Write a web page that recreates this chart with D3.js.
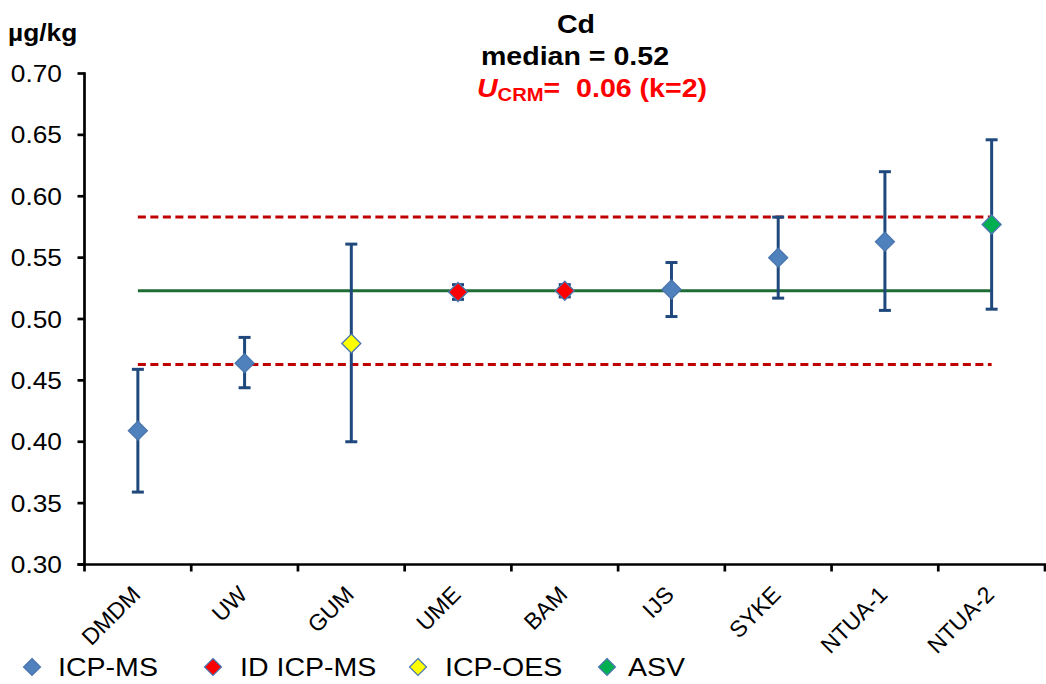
<!DOCTYPE html>
<html lang="en">
<head>
    <meta charset="UTF-8">
    <title>Cd</title>
    <style>
        body { margin: 0; background: #fff; }
        text { font-family: "Liberation Sans", Arial, sans-serif; }
        .axis-line { stroke: #000; stroke-width: 2.7; fill: none; }
        .errbar { stroke: #1F497D; stroke-width: 3; fill: none; }
        .median { stroke: #1E6B35; stroke-width: 3; }
        .limit { stroke: #C00000; stroke-width: 3; stroke-dasharray: 8 4.5; }
    </style>
</head>
<body>
    <svg></svg>
<script src="https://d3js.org/d3.v7.min.js"></script>
<script>
    // data
    var labs = ["DMDM", "UW", "GUM", "UME", "BAM", "IJS", "SYKE", "NTUA-1", "NTUA-2"];
    var vals = [0.409, 0.464, 0.480, 0.522, 0.523, 0.524, 0.550, 0.563, 0.577];
    var lows = [0.359, 0.444, 0.400, 0.516, 0.518, 0.502, 0.517, 0.507, 0.508];
    var highs = [0.459, 0.485, 0.561, 0.528, 0.528, 0.546, 0.583, 0.620, 0.646];
    var methods = ["ICP-MS", "ICP-MS", "ICP-OES", "ID ICP-MS", "ID ICP-MS", "ICP-MS", "ICP-MS", "ICP-MS", "ASV"];
    var yTicks = [0.30, 0.35, 0.40, 0.45, 0.50, 0.55, 0.60, 0.65, 0.70];
    var median = 0.523;
    var lowerLimit = 0.463;
    var upperLimit = 0.583;
    var legendItems = ["ICP-MS", "ID ICP-MS", "ICP-OES", "ASV"];
    var legendX = [32, 213, 418, 607];
    var legendTextX = [58, 240, 445, 628];
    var fills = {"ICP-MS": "#4F81BD", "ID ICP-MS": "#FF0000", "ICP-OES": "#FFFF00", "ASV": "#00B050"};

    var width = 1046, height = 684;
    var sx = 1.12; // reference text is a bit wider than Arial

    var svg = d3.select("svg").attr("width", width).attr("height", height);

    var x = d3.scaleBand().domain(labs).range([84.5, 1045]).padding(0);
    var y = d3.scaleLinear().domain([0.30, 0.70]).range([564.5, 73.5]);
    var cx = function(d) { return x(d) + x.bandwidth() / 2; };

    var rows = labs.map(function(l, i) {
        return {lab: l, v: vals[i], lo: lows[i], hi: highs[i], m: methods[i]};
    });

    function htext(g, px, py, str, size, weight, anchor, color) {
        return g.append("text")
            .attr("transform", "translate(" + px + "," + py + ") scale(" + sx + ",1)")
            .attr("text-anchor", anchor)
            .style("font-size", size + "px")
            .style("font-weight", weight)
            .attr("fill", color || "#000")
            .text(str);
    }

    // reference lines
    var x0 = cx(labs[0]), x1 = cx(labs[labs.length - 1]);
    svg.append("line").attr("class", "limit")
        .attr("x1", x0).attr("x2", x1).attr("y1", y(upperLimit)).attr("y2", y(upperLimit));
    svg.append("line").attr("class", "limit")
        .attr("x1", x0).attr("x2", x1).attr("y1", y(lowerLimit)).attr("y2", y(lowerLimit));
    svg.append("line").attr("class", "median")
        .attr("x1", x0).attr("x2", x1).attr("y1", y(median)).attr("y2", y(median));

    // axes
    var yAxis = svg.append("g");
    yAxis.append("line").attr("class", "axis-line")
        .attr("x1", 84.5).attr("x2", 84.5).attr("y1", y(0.70) - 1.3).attr("y2", y(0.30));
    yTicks.forEach(function(t) {
        yAxis.append("line").attr("class", "axis-line")
            .attr("x1", 77.5).attr("x2", 84.5).attr("y1", y(t)).attr("y2", y(t));
        htext(yAxis, 62, y(t) + 8.5, t.toFixed(2), 23.5, "normal", "end");
    });

    var xAxis = svg.append("g");
    xAxis.append("line").attr("class", "axis-line")
        .attr("x1", 77.5).attr("x2", 1046).attr("y1", y(0.30)).attr("y2", y(0.30));
    labs.concat([null]).forEach(function(l) {
        var bx = l === null ? x.range()[1] : x(l);
        xAxis.append("line").attr("class", "axis-line")
            .attr("x1", bx).attr("x2", bx).attr("y1", y(0.30)).attr("y2", y(0.30) + 7);
    });
    labs.forEach(function(l) {
        xAxis.append("text")
            .attr("transform", "translate(" + (cx(l) + 4) + ",596) rotate(-45)")
            .attr("text-anchor", "end")
            .style("font-size", "23px")
            .text(l);
    });

    // error bars
    var eb = svg.append("g").selectAll("g").data(rows).enter().append("g");
    eb.append("line").attr("class", "errbar")
        .attr("x1", function(d) { return cx(d.lab); }).attr("x2", function(d) { return cx(d.lab); })
        .attr("y1", function(d) { return y(d.lo); }).attr("y2", function(d) { return y(d.hi); });
    eb.append("line").attr("class", "errbar")
        .attr("x1", function(d) { return cx(d.lab) - 6; }).attr("x2", function(d) { return cx(d.lab) + 6; })
        .attr("y1", function(d) { return y(d.lo); }).attr("y2", function(d) { return y(d.lo); });
    eb.append("line").attr("class", "errbar")
        .attr("x1", function(d) { return cx(d.lab) - 6; }).attr("x2", function(d) { return cx(d.lab) + 6; })
        .attr("y1", function(d) { return y(d.hi); }).attr("y2", function(d) { return y(d.hi); });

    // diamonds
    function diamond(r) {
        return "M0," + (-r) + "L" + r + ",0L0," + r + "L" + (-r) + ",0Z";
    }
    svg.append("g").selectAll("path").data(rows).enter().append("path")
        .attr("d", diamond(9.5))
        .attr("transform", function(d) { return "translate(" + cx(d.lab) + "," + y(d.v) + ")"; })
        .attr("fill", function(d) { return fills[d.m]; })
        .attr("stroke", "#4A76AE")
        .attr("stroke-width", 1.3);

    // titles
    var tg = svg.append("g");
    htext(tg, 8, 41, "\u00b5g/kg", 23.5, "bold", "start");
    htext(tg, 576, 33, "Cd", 25.5, "bold", "middle");
    htext(tg, 575, 65, "median = 0.52", 25.5, "bold", "middle");
    var ut = tg.append("text")
        .attr("transform", "translate(477,97) scale(" + sx + ",1)")
        .style("font-size", "25.5px").style("font-weight", "bold")
        .attr("fill", "#FF0000");
    ut.append("tspan").style("font-style", "italic").text("U");
    ut.append("tspan").style("font-size", "18px").attr("dy", 4).text("CRM");
    ut.append("tspan").attr("dy", -4).text("=\u00a0 0.06 (k=2)");

    // legend
    var lg = svg.append("g");
    legendItems.forEach(function(m, i) {
        lg.append("path").attr("d", diamond(8.5))
            .attr("transform", "translate(" + legendX[i] + ",667)")
            .attr("fill", fills[m]).attr("stroke", "#4A76AE").attr("stroke-width", 1.2);
        htext(lg, legendTextX[i], 676, m, 25.5, "normal", "start");
    });
</script>
</body>
</html>
